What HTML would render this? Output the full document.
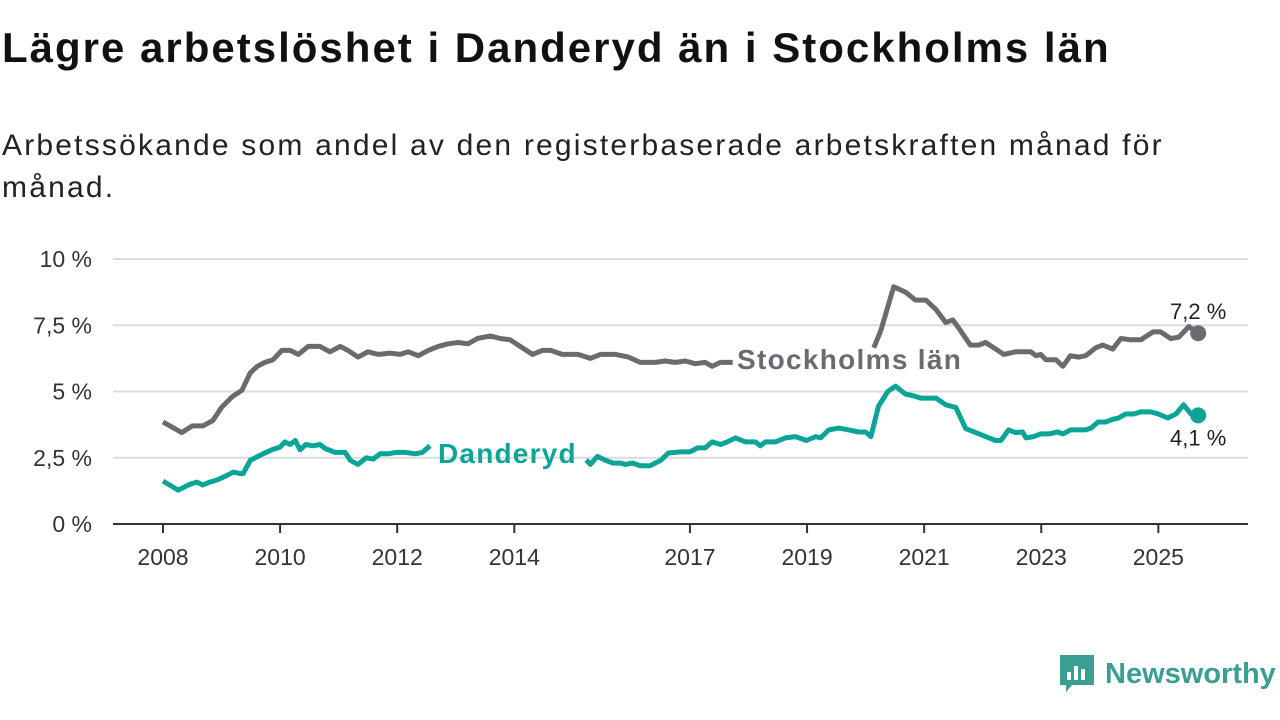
<!DOCTYPE html>
<html><head><meta charset="utf-8"><style>
body{margin:0;width:1280px;height:720px;background:#fff;font-family:"Liberation Sans",sans-serif;overflow:hidden;position:relative}
h1{position:absolute;left:2px;top:24px;margin:0;font-size:42px;letter-spacing:2px;font-weight:bold;color:#111;white-space:nowrap}
.sub{position:absolute;left:2px;top:125px;margin:0;font-size:30px;letter-spacing:2.2px;line-height:42px;color:#222;white-space:nowrap}
svg{position:absolute;left:0;top:0}
</style></head><body>
<h1>Lägre arbetslöshet i Danderyd än i Stockholms län</h1>
<p class="sub">Arbetssökande som andel av den registerbaserade arbetskraften månad för<br>månad.</p>
<svg id="chart" width="1280" height="720"></svg>
<script>
const yTicks=[0,2.5,5,7.5,10];
const yTickLabels=["0 %","2,5 %","5 %","7,5 %","10 %"];
const xTicks=[2008,2010,2012,2014,2017,2019,2021,2023,2025];
const sthlmDates=[2008.0,2008.32,2008.5,2008.68,2008.85,2009.0,2009.18,2009.35,2009.49,2009.61,2009.74,2009.88,2010.03,2010.17,2010.31,2010.48,2010.68,2010.85,2011.03,2011.16,2011.33,2011.5,2011.68,2011.88,2012.05,2012.19,2012.36,2012.53,2012.7,2012.87,2013.04,2013.21,2013.37,2013.59,2013.76,2013.93,2014.1,2014.31,2014.48,2014.62,2014.82,2015.09,2015.3,2015.47,2015.73,2015.95,2016.15,2016.41,2016.58,2016.75,2016.92,2017.09,2017.26,2017.38,2017.52,2017.73,null,2020.14,2020.26,2020.48,2020.68,2020.85,2021.03,2021.2,2021.37,2021.49,2021.62,2021.79,2021.93,2022.05,2022.19,2022.36,2022.56,2022.82,2022.91,2022.99,2023.08,2023.25,2023.37,2023.5,2023.64,2023.76,2023.93,2024.05,2024.22,2024.36,2024.53,2024.7,2024.91,2025.04,2025.21,2025.35,2025.52,2025.68];
const sthlmValues=[3.85,3.45,3.7,3.7,3.9,4.4,4.8,5.05,5.7,5.95,6.1,6.2,6.55,6.55,6.4,6.7,6.7,6.5,6.7,6.55,6.3,6.5,6.4,6.45,6.4,6.5,6.35,6.55,6.7,6.8,6.85,6.8,7.0,7.1,7.0,6.95,6.7,6.4,6.55,6.55,6.4,6.4,6.25,6.4,6.4,6.3,6.1,6.1,6.15,6.1,6.15,6.05,6.1,5.95,6.1,6.1,null,6.65,7.3,8.95,8.75,8.45,8.45,8.1,7.6,7.7,7.3,6.75,6.75,6.85,6.65,6.4,6.5,6.5,6.35,6.4,6.2,6.2,5.95,6.35,6.3,6.35,6.65,6.75,6.6,7.0,6.95,6.95,7.25,7.25,7.0,7.05,7.45,7.2];
const dandDates=[2008.0,2008.26,2008.46,2008.58,2008.68,2008.8,2008.92,2009.06,2009.2,2009.32,2009.37,2009.49,2009.62,2009.76,2009.86,2010.0,2010.08,2010.17,2010.26,2010.34,2010.44,2010.56,2010.68,2010.77,2010.94,2011.11,2011.2,2011.33,2011.47,2011.59,2011.71,2011.85,2011.97,2012.14,2012.31,2012.43,2012.56,null,2015.23,2015.3,2015.42,2015.56,2015.69,2015.81,2015.9,2016.02,2016.15,2016.32,2016.5,2016.63,2016.84,2017.0,2017.13,2017.26,2017.38,2017.52,2017.64,2017.78,2017.95,2018.12,2018.2,2018.29,2018.46,2018.63,2018.8,2018.99,2019.15,2019.23,2019.37,2019.54,2019.71,2019.88,2020.0,2020.09,2020.22,2020.38,2020.51,2020.68,2020.8,2020.94,2021.11,2021.2,2021.37,2021.54,2021.71,2021.88,2022.05,2022.22,2022.31,2022.44,2022.56,2022.68,2022.74,2022.87,2022.99,2023.13,2023.28,2023.37,2023.5,2023.76,2023.85,2023.97,2024.1,2024.22,2024.32,2024.44,2024.58,2024.7,2024.87,2025.0,2025.16,2025.3,2025.43,2025.56,2025.68];
const dandValues=[1.62,1.28,1.5,1.58,1.47,1.58,1.66,1.8,1.96,1.9,1.9,2.4,2.55,2.7,2.8,2.9,3.1,3.0,3.15,2.8,3.0,2.95,3.0,2.85,2.7,2.7,2.4,2.25,2.5,2.45,2.65,2.65,2.7,2.7,2.65,2.7,2.95,null,2.42,2.25,2.55,2.4,2.3,2.3,2.25,2.3,2.2,2.2,2.4,2.68,2.72,2.72,2.87,2.87,3.1,3.0,3.1,3.25,3.1,3.1,2.95,3.1,3.1,3.25,3.3,3.15,3.3,3.25,3.55,3.62,3.55,3.47,3.47,3.3,4.45,5.0,5.2,4.9,4.85,4.75,4.75,4.75,4.5,4.4,3.6,3.45,3.3,3.15,3.15,3.55,3.45,3.47,3.25,3.3,3.4,3.4,3.47,3.4,3.55,3.55,3.62,3.85,3.85,3.95,4.0,4.15,4.15,4.23,4.23,4.15,4.0,4.15,4.5,4.15,4.1];
const NS="http://www.w3.org/2000/svg";
const svg=document.getElementById('chart');
const X=y=>163+(y-2008)*58.55;
const Y=v=>524-v*26.5;
function mk(t,a){const e=document.createElementNS(NS,t);for(const k in a)e.setAttribute(k,a[k]);svg.appendChild(e);return e;}
yTicks.forEach((v,i)=>{
  if(v>0){const g=mk('line',{x1:113,x2:1248,y1:Y(v),y2:Y(v),stroke:'#dcdcdc','stroke-width':2});
  
  }
  const t=mk('text',{x:92,y:Y(v)+8,'text-anchor':'end','font-size':23,fill:'#333'});
  t.textContent=yTickLabels[i];
  
  
});
const ax=mk('line',{x1:113,x2:1248,y1:524,y2:524,stroke:'#333','stroke-width':2});


xTicks.forEach(yr=>{
  const tk=mk('line',{x1:X(yr),x2:X(yr),y1:524,y2:533,stroke:'#333','stroke-width':2});
  
  
  const t=mk('text',{x:X(yr),y:565,'text-anchor':'middle','font-size':23,fill:'#333'});
  t.textContent=yr;
  
  
});
function path(ds,vs){let d='',pen=false;ds.forEach((x,i)=>{if(x===null){pen=false;return;}d+=(pen?'L':'M')+X(x).toFixed(1)+','+Y(vs[i]).toFixed(1);pen=true;});return d;}
const ls=mk('path',{d:path(sthlmDates,sthlmValues),fill:'none',stroke:'#6b6a70','stroke-width':5,'stroke-linejoin':'round'});


const ld=mk('path',{d:path(dandDates,dandValues),fill:'none',stroke:'#0aa596','stroke-width':5,'stroke-linejoin':'round'});


const n1=sthlmDates.length-1,n2=dandDates.length-1;
const c1=mk('circle',{cx:X(sthlmDates[n1]),cy:Y(sthlmValues[n1]),r:8,fill:'#6b6a70'});


const c2=mk('circle',{cx:X(dandDates[n2]),cy:Y(dandValues[n2]),r:8,fill:'#0aa596'});


const t1=mk('text',{x:X(sthlmDates[n1]),y:Y(sthlmValues[n1])-14,'text-anchor':'middle','font-size':22,fill:'#222'});
t1.textContent=String(sthlmValues[n1]).replace('.',',')+' %';


const t2=mk('text',{x:X(dandDates[n2]),y:Y(dandValues[n2])+30,'text-anchor':'middle','font-size':22,fill:'#222'});
t2.textContent=String(dandValues[n2]).replace('.',',')+' %';


const s1=mk('text',{x:737,y:369,'font-size':28,'font-weight':'bold',fill:'#6b6a70','letter-spacing':1.3});
s1.textContent='Stockholms län';


const s2=mk('text',{x:438,y:463,'font-size':28,'font-weight':'bold',fill:'#0aa596','letter-spacing':1.2});
s2.textContent='Danderyd';


</script>
<div style="position:absolute;left:1060px;top:655px;display:flex;align-items:center">
<svg width="34" height="38" viewBox="0 0 34 38" style="position:static"><path d="M0 0H34V30H12L6 37V30H0Z" fill="#3a9e93"/><rect x="7" y="17" width="4" height="8" fill="#fff"/><rect x="14" y="11" width="4" height="14" fill="#fff"/><rect x="21" y="14" width="4" height="11" fill="#fff"/></svg>
<span style="margin-left:11px;font-size:29px;font-weight:bold;color:#3a9e93">Newsworthy</span></div>
</body></html>
